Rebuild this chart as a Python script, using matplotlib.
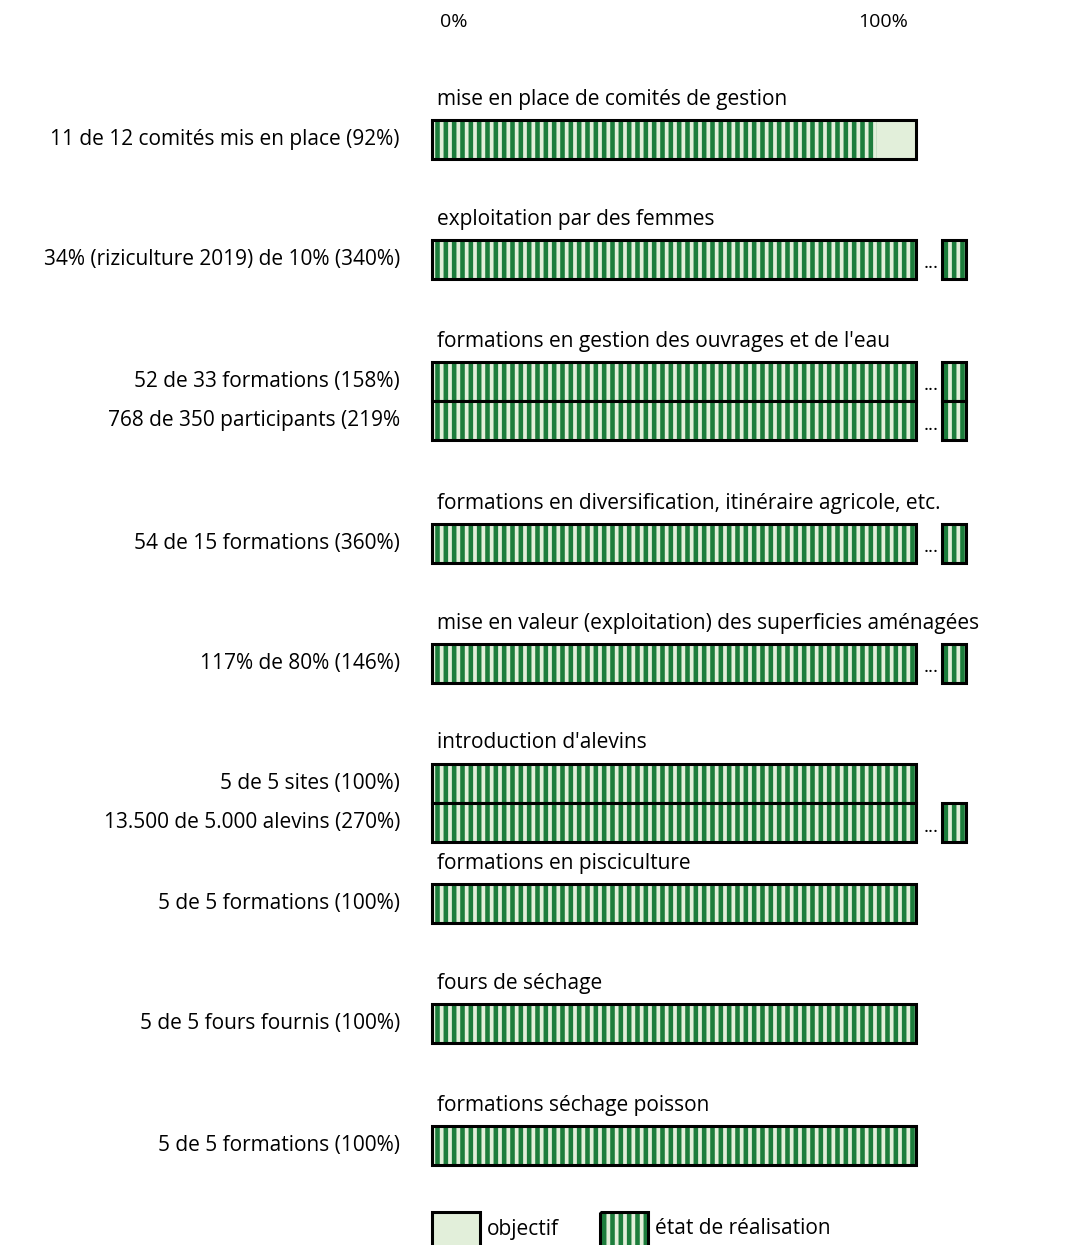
import matplotlib.pyplot as plt
from matplotlib.patches import Rectangle

plt.rcParams['font.family'] = ['Open Sans', 'DejaVu Sans']
plt.rcParams['hatch.linewidth'] = 3.3

# data
titles = [
    "mise en place de comités de gestion",
    "exploitation par des femmes",
    "formations en gestion des ouvrages et de l'eau",
    "formations en diversification, itinéraire agricole, etc.",
    "mise en valeur (exploitation) des superficies aménagées",
    "introduction d'alevins",
    "formations en pisciculture",
    "fours de séchage",
    "formations séchage poisson",
]
row_labels = [
    ["11 de 12 comités mis en place (92%)"],
    ["34% (riziculture 2019) de 10% (340%)"],
    ["52 de 33 formations (158%)", "768 de 350 participants (219%"],
    ["54 de 15 formations (360%)"],
    ["117% de 80% (146%)"],
    ["5 de 5 sites (100%)", "13.500 de 5.000 alevins (270%)"],
    ["5 de 5 formations (100%)"],
    ["5 de 5 fours fournis (100%)"],
    ["5 de 5 formations (100%)"],
]
row_values = [
    [92],
    [340],
    [158, 219],
    [360],
    [146],
    [100, 270],
    [100],
    [100],
    [100],
]

# layout (pixel rows, top of first bar in each group)
group_tops = [120, 240, 362, 524, 644, 764, 884, 1004, 1126]
BAR_H = 39
PX_PER_PCT = 4.84
X0 = 432
W, H = 1066, 1245
FS = 15

LIGHT = '#e2efda'
DARK = '#1d7d3c'

fig = plt.figure(figsize=(W / 100, H / 100), dpi=100)
ax = fig.add_axes([0, 0, 1, 1])
ax.set_xlim(-X0 / PX_PER_PCT, (W - X0) / PX_PER_PCT)
ax.set_ylim(H, 0)
ax.axis('off')


def striped(x, y, w, h):
    ax.add_patch(Rectangle((x, y), w, h, facecolor=LIGHT, edgecolor=DARK,
                           hatch='||', linewidth=0))


def frame(x, y, w, h):
    ax.add_patch(Rectangle((x, y), w, h, fill=False, edgecolor='black',
                           linewidth=2.2))


ax.annotate('0%', (0, 22), xytext=(6, 0), textcoords='offset points',
            ha='left', va='center', fontsize=14)
ax.annotate('100%', (100, 22), xytext=(-6, 0), textcoords='offset points',
            ha='right', va='center', fontsize=14)

for title, labels, vals, top in zip(titles, row_labels, row_values, group_tops):
    ax.text(1, top - 21, title, ha='left', va='center', fontsize=FS)
    for i, (lab, v) in enumerate(zip(labels, vals)):
        y = top + i * BAR_H
        # objective background
        ax.add_patch(Rectangle((0, y), 100, BAR_H, facecolor=LIGHT,
                               edgecolor='none'))
        striped(0, y, min(v, 100), BAR_H)
        frame(0, y, 100, BAR_H)
        if v > 100:
            ax.text(103.1, y + BAR_H / 2 + 4, '...', ha='center', va='center',
                    fontsize=14)
            striped(105.4, y, 4.9, BAR_H)
            frame(105.4, y, 4.9, BAR_H)
        ax.text(-32 / PX_PER_PCT, y + BAR_H / 2, lab, ha='right',
                va='center', fontsize=FS)

# legend
ly = 1212
ax.add_patch(Rectangle((0, ly), 48 / PX_PER_PCT, 40, facecolor=LIGHT,
                       edgecolor='black', linewidth=2.2))
ax.text(55 / PX_PER_PCT, 1229, 'objectif', ha='left', va='center', fontsize=FS)
lx = (600 - X0) / PX_PER_PCT
striped(lx, ly, 48 / PX_PER_PCT, 40)
frame(lx, ly, 48 / PX_PER_PCT, 40)
ax.text((655 - X0) / PX_PER_PCT, 1229, 'état de réalisation', ha='left',
        va='center', fontsize=FS)

fig.savefig('out.png', dpi=100)
